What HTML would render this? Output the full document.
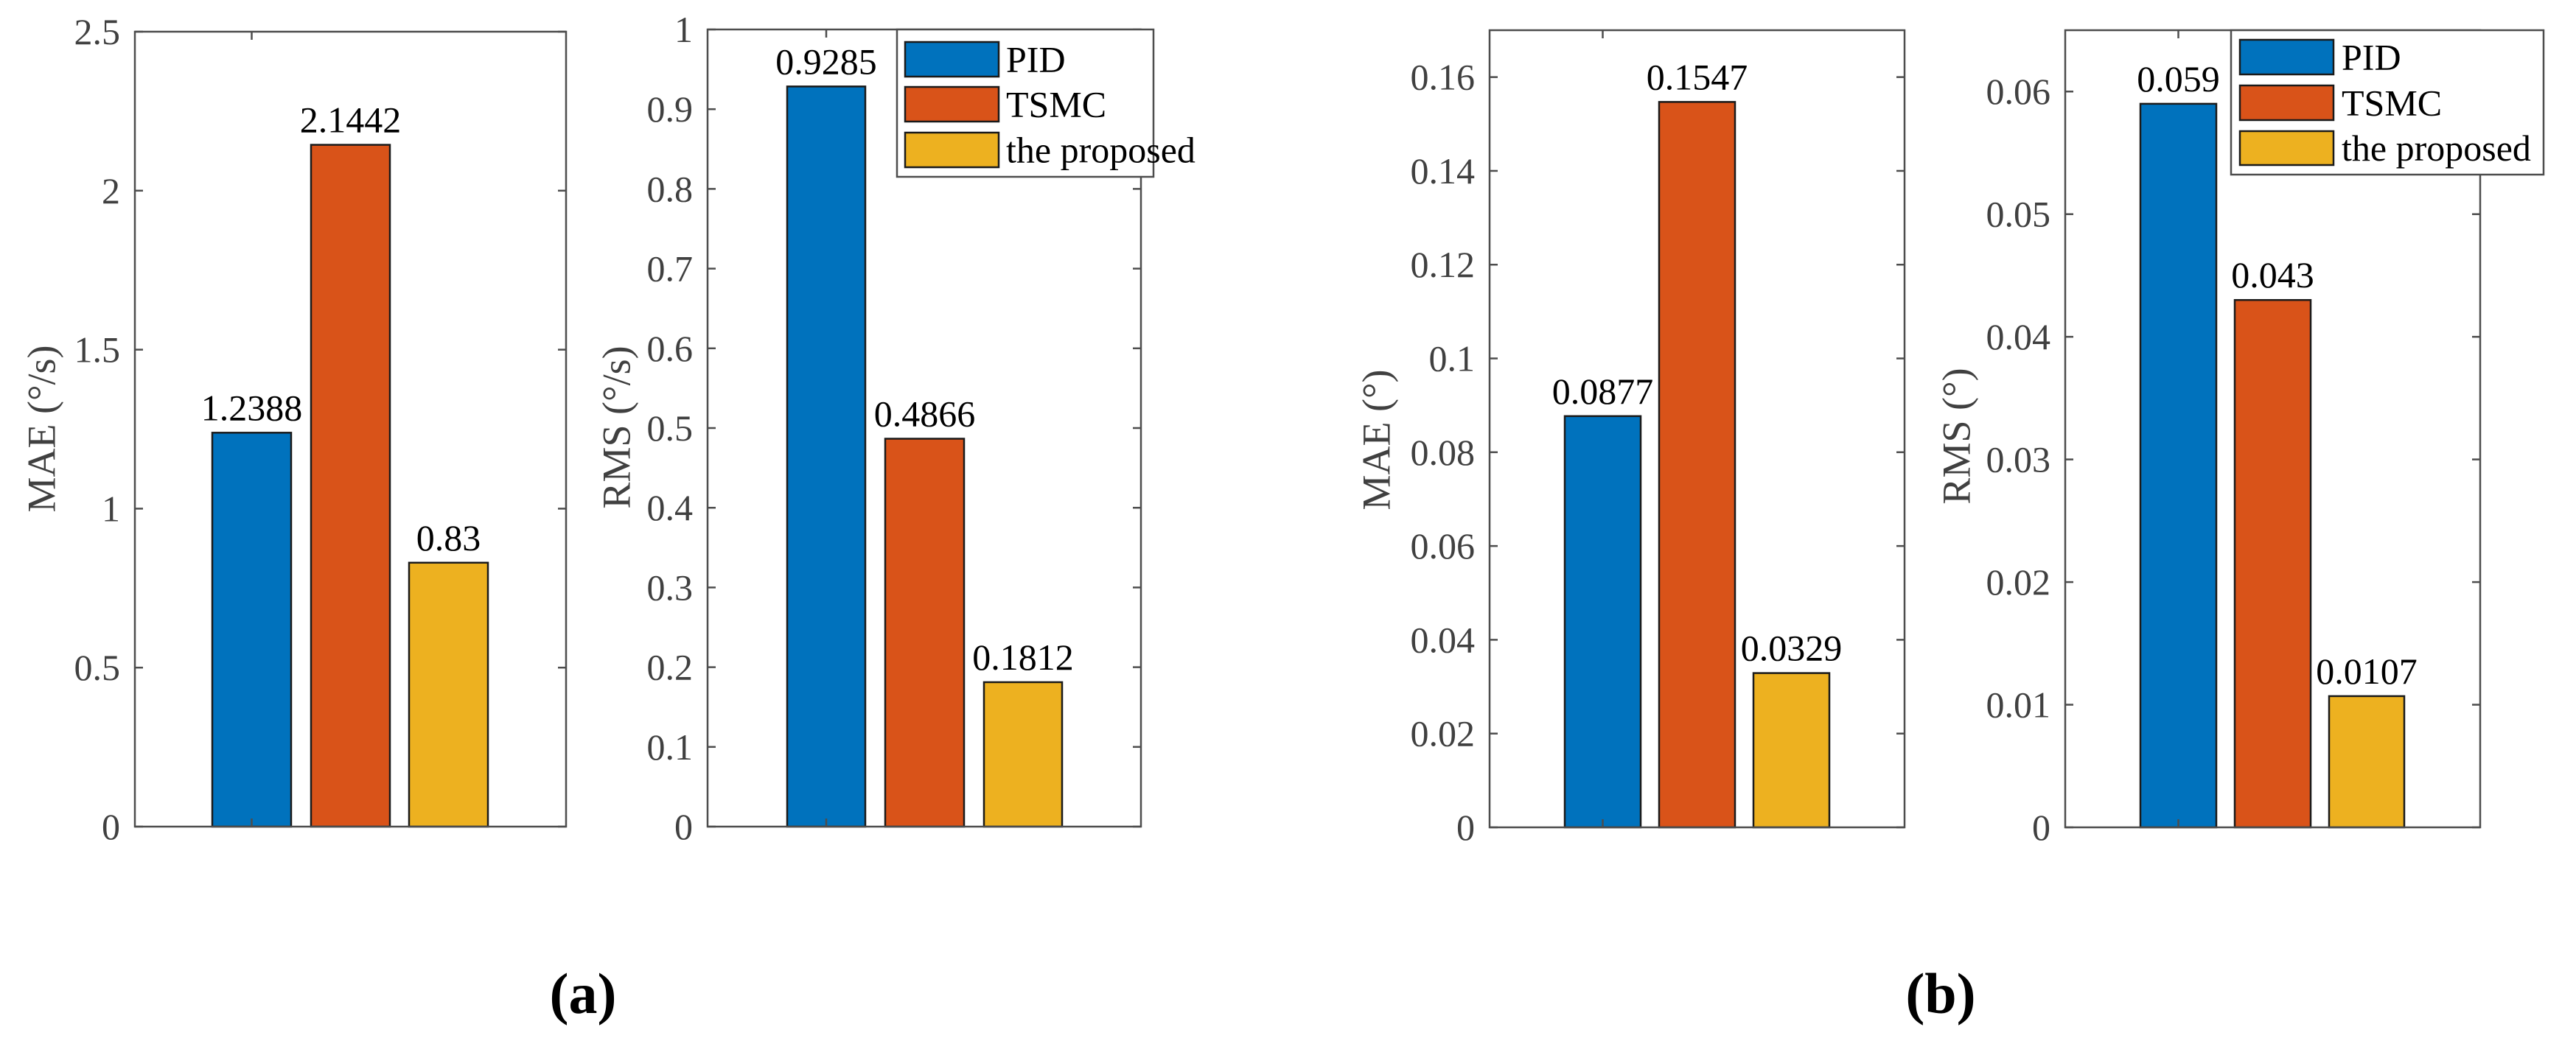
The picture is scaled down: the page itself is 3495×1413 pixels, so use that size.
<!DOCTYPE html>
<html><head><meta charset="utf-8"><style>
html,body{margin:0;padding:0;background:#fff;}
svg{display:block;font-family:"Liberation Serif","DejaVu Serif",serif;}
svg text{font-family:"Liberation Serif","DejaVu Serif",serif !important;}
</style></head><body>
<svg id="chart" width="3495" height="1413" xmlns="http://www.w3.org/2000/svg" font-family="Liberation Serif, serif"></svg>
<script>
const seriesNames = ["PID", "TSMC", "the proposed"];
const colors = ["#0072BD", "#D95319", "#EDB120"];
const valuesMAEa = [1.2388, 2.1442, 0.83];
const valuesRMSa = [0.9285, 0.4866, 0.1812];
const valuesMAEb = [0.0877, 0.1547, 0.0329];
const valuesRMSb = [0.059, 0.043, 0.0107];
const ticksMAEa = ["0","0.5","1","1.5","2","2.5"];
const ticksRMSa = ["0","0.1","0.2","0.3","0.4","0.5","0.6","0.7","0.8","0.9","1"];
const ticksMAEb = ["0","0.02","0.04","0.06","0.08","0.1","0.12","0.14","0.16"];
const ticksRMSb = ["0","0.01","0.02","0.03","0.04","0.05","0.06"];
const labelsMAEa = ["1.2388","2.1442","0.83"];
const labelsRMSa = ["0.9285","0.4866","0.1812"];
const labelsMAEb = ["0.0877","0.1547","0.0329"];
const labelsRMSb = ["0.059","0.043","0.0107"];

const NS = "http://www.w3.org/2000/svg";
const svg = document.getElementById("chart");
const FONT = "'Liberation Serif', serif";
function mk(tag, attrs, parent){
  const e = document.createElementNS(NS, tag);
  for (const k in attrs) e.setAttribute(k, attrs[k]);
  if (tag === "text") e.setAttribute("font-family", FONT);
  (parent||svg).appendChild(e);
  return e;
}

const panels = [
  {key:"mae-a", x0:183, x1:768, y0:43, y1:1122, ymax:2.5, vals:valuesMAEa, ticks:ticksMAEa, labels:labelsMAEa,
   bars:[[288,395],[422,529],[555,662]], title:"MAE (°/s)", tx:62, ty:582},
  {key:"rms-a", x0:960, x1:1548, y0:40, y1:1122, ymax:1, vals:valuesRMSa, ticks:ticksRMSa, labels:labelsRMSa,
   bars:[[1068,1174],[1201,1308],[1335,1441]], title:"RMS (°/s)", tx:842, ty:580},
  {key:"mae-b", x0:2021, x1:2584, y0:41, y1:1123, ymax:0.17, vals:valuesMAEb, ticks:ticksMAEb, labels:labelsMAEb,
   bars:[[2123,2226],[2251,2354],[2379,2482]], title:"MAE (°)", tx:1873, ty:597},
  {key:"rms-b", x0:2802, x1:3365, y0:41, y1:1123, ymax:0.065, vals:valuesRMSb, ticks:ticksRMSb, labels:labelsRMSb,
   bars:[[2904,3007],[3032,3135],[3160,3262]], title:"RMS (°)", tx:2660, ty:592}
];

panels.forEach(p => {
  const g = mk("g", {});
  
  
  const yScale = v => p.y1 - (v / p.ymax) * (p.y1 - p.y0);
  p.vals.forEach((v, i) => {
    const [bx0, bx1] = p.bars[i];
    const r = mk("rect", {x:bx0, y:yScale(v), width:bx1-bx0, height:p.y1-yScale(v), fill:colors[i], stroke:"#1a1a1a", "stroke-width":2.5}, g);
    
    
    const t = mk("text", {x:(bx0+bx1)/2, y:yScale(v)-17, "font-size":50, "text-anchor":"middle", fill:"#000"}, g);
    t.textContent = p.labels[i];
    
    
  });
  const f = mk("rect", {x:p.x0, y:p.y0, width:p.x1-p.x0, height:p.y1-p.y0, fill:"none", stroke:"#4d4d4d", "stroke-width":2.5}, g);
  
  
  p.ticks.forEach(tl => {
    const y = yScale(parseFloat(tl));
    mk("line", {x1:p.x0, x2:p.x0+11, y1:y, y2:y, stroke:"#4d4d4d", "stroke-width":2.5}, g);
    mk("line", {x1:p.x1, x2:p.x1-11, y1:y, y2:y, stroke:"#4d4d4d", "stroke-width":2.5}, g);
    const t = mk("text", {x:p.x0-20, y:y+17, "font-size":50, "text-anchor":"end", fill:"#404040"}, g);
    t.textContent = tl;
    
    
  });
  const cx = (p.bars[0][0]+p.bars[0][1])/2;
  mk("line", {x1:cx, x2:cx, y1:p.y1, y2:p.y1-11, stroke:"#4d4d4d", "stroke-width":2.5}, g);
  mk("line", {x1:cx, x2:cx, y1:p.y0, y2:p.y0+11, stroke:"#4d4d4d", "stroke-width":2.5}, g);
  const yt = mk("text", {x:p.tx, y:p.ty, "font-size":54, "text-anchor":"middle", fill:"#404040",
    transform:`rotate(-90 ${p.tx} ${p.ty})`, "dominant-baseline":"middle"}, g);
  yt.textContent = p.title;
  
  
});

const legends = [
  {key:"a", x0:1217, x1:1565, y0:40, y1:240, px0:1228, px1:1355, tx:1365, py:[[57,104],[118,165],[180,227]]},
  {key:"b", x0:3027, x1:3451, y0:41, y1:237, px0:3039, px1:3166, tx:3177, py:[[54,101],[116,163],[178,224]]}
];
legends.forEach(L => {
  const g = mk("g", {});
  
  
  mk("rect", {x:L.x0, y:L.y0, width:L.x1-L.x0, height:L.y1-L.y0, fill:"#fff", stroke:"#4d4d4d", "stroke-width":2.5}, g);
  seriesNames.forEach((n, i) => {
    const [a, b] = L.py[i];
    const r = mk("rect", {x:L.px0, y:a, width:L.px1-L.px0, height:b-a, fill:colors[i], stroke:"#1a1a1a", "stroke-width":2.5}, g);
    
    
    const t = mk("text", {x:L.tx, y:(a+b)/2+17, "font-size":50, fill:"#000"}, g);
    t.textContent = n;
    
    
  });
});

[["(a)", 791], ["(b)", 2633]].forEach(([s, x]) => {
  const t = mk("text", {x:x, y:1375, "font-size":78, "font-weight":"bold", "text-anchor":"middle", fill:"#000"});
  t.textContent = s;
  
  
});
</script>
</body></html>
